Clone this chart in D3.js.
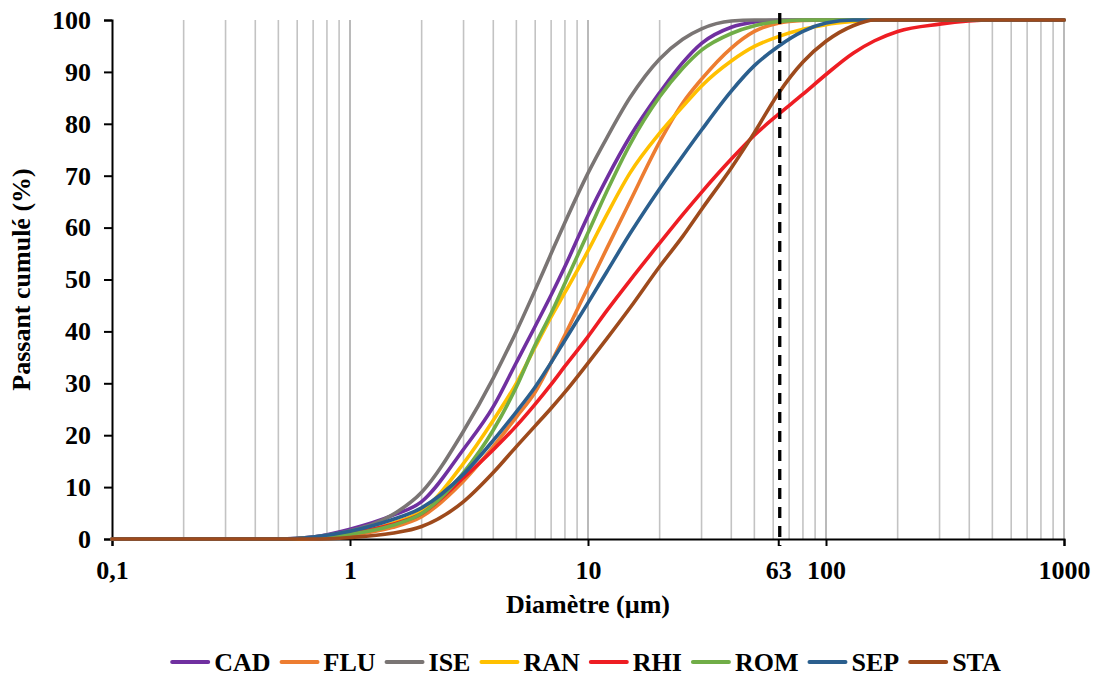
<!DOCTYPE html>
<html>
<head>
<meta charset="utf-8">
<script src="https://cdn.jsdelivr.net/npm/d3@7"></script>
<style>
  html, body { margin: 0; padding: 0; background: #fff; }
  svg { display: block; }
  text { font-family: "Liberation Serif", "Times New Roman", serif; font-weight: bold; fill: #000; }
</style>
</head>
<body>
<svg id="chart" width="1097" height="680"></svg>
<script>
// ---- data ----
const diameters = [0.1, 0.5, 0.7, 1, 1.5, 2, 3, 4, 5, 6, 7, 8, 10, 12, 15, 20, 25, 30, 40, 50, 63, 80, 100, 130, 160, 200, 300, 500, 1000];

const CAD = [0, 0, 0.4, 1.9, 4.5, 7.2, 17.3, 25.5, 34, 41, 47, 52.5, 62.3, 69.5, 77.5, 86, 91.8, 95.5, 98.6, 99.6, 99.95, 100, 100, 100, 100, 100, 100, 100, 100];
const FLU = [0, 0, 0.1, 0.7, 2.2, 4.3, 11.2, 17.8, 23.5, 28.3, 34, 39.3, 48.5, 56, 65, 76.5, 84, 88.6, 94.6, 97.8, 99.4, 99.9, 100, 100, 100, 100, 100, 100, 100];
const ISE = [0, 0, 0.4, 1.6, 4.6, 9, 20.8, 31, 40, 48, 55, 61, 70.5, 77.3, 85, 92.5, 96.3, 98.3, 99.8, 100, 100, 100, 100, 100, 100, 100, 100, 100, 100];
const RAN = [0, 0, 0.2, 1.0, 3, 5.4, 14.6, 22.9, 30, 37, 42.8, 47.5, 55.5, 62.5, 70.5, 78.2, 83.3, 87.3, 92.1, 94.9, 96.8, 98.2, 99.1, 99.7, 100, 100, 100, 100, 100];
const RHI = [0, 0, 0.2, 1.1, 2.8, 4.9, 11.8, 17.2, 21.8, 26, 29.8, 33.3, 39, 44, 49.8, 57, 62.5, 66.8, 73.2, 77.8, 81.8, 85.7, 89.5, 93.6, 96, 97.8, 99.2, 100, 100];
const ROM = [0, 0, 0.2, 0.9, 2.6, 4.9, 12.8, 21, 29.3, 37.4, 43.5, 49.3, 59, 67, 76, 85.2, 90.7, 94.2, 97.4, 98.9, 99.7, 100, 100, 100, 100, 100, 100, 100, 100];
const SEP = [0, 0, 0.4, 1.5, 3.7, 6, 12.5, 19, 24.5, 29.3, 34, 38.3, 45.5, 51.5, 58.8, 67.5, 73.8, 78.8, 86.3, 91.2, 94.9, 97.8, 99.4, 100, 100, 100, 100, 100, 100];
const STA = [0, 0, 0, 0.3, 1.1, 2.4, 7.2, 12.8, 17.8, 21.8, 25.2, 28.3, 33.9, 38.6, 44.5, 52.5, 58.3, 63.5, 71.5, 78.3, 85.8, 91.9, 95.9, 98.9, 100, 100, 100, 100, 100];

const seriesNames = ["CAD", "FLU", "ISE", "RAN", "RHI", "ROM", "SEP", "STA"];
const seriesValues = [CAD, FLU, ISE, RAN, RHI, ROM, SEP, STA];
const seriesColors = ["#7030A0", "#ED7D31", "#7A7574", "#FFC000", "#EE1D23", "#70AD47", "#2B5F8E", "#9E4A1C"];

const xTickValues = [0.1, 1, 10, 63, 100, 1000];
const xTickLabels = ["0,1", "1", "10", "63", "100", "1000"];
const yTickValues = [0, 10, 20, 30, 40, 50, 60, 70, 80, 90, 100];
const referenceDiameter = 63;

const xTitle = "Diamètre (µm)";
const yTitle = "Passant cumulé (%)";

// ---- layout ----
const W = 1097, H = 680;
const FS = 26;
const margin = { left: 112, right: 33, top: 20, bottom: 141 };
const svg = d3.select("#chart");

const x = d3.scaleLog().domain([0.1, 1000]).range([margin.left, W - margin.right]);
const y = d3.scaleLinear().domain([0, 100]).range([H - margin.bottom, margin.top]);

// vertical gridlines at every 1..9 x 10^k
const gridVals = [];
for (let k = -1; k < 3; k++) {
  for (let m = 1; m <= 9; m++) {
    const v = m * Math.pow(10, k);
    if (v > 0.1) gridVals.push(v);
  }
}
gridVals.push(1000);

svg.append("g").selectAll("line").data(gridVals).join("line")
  .attr("x1", d => x(d)).attr("x2", d => x(d))
  .attr("y1", y(100)).attr("y2", y(0))
  .attr("stroke", d => (Math.abs(Math.log10(d) - Math.round(Math.log10(d))) < 1e-9) ? "#a9a9a9" : "#c3c3c3")
  .attr("stroke-width", 1.6);

// x axis
const xAxis = svg.append("g").attr("transform", `translate(0,${y(0)})`)
  .call(d3.axisBottom(x).tickValues(xTickValues)
    .tickFormat((d, i) => xTickLabels[i]).tickSize(7).tickPadding(15));
xAxis.select(".domain").attr("stroke", "#000").attr("stroke-width", 2);
xAxis.selectAll(".tick line").attr("stroke", "#000").attr("stroke-width", 2);
xAxis.selectAll(".tick text").attr("font-size", FS).attr("font-family", "Liberation Serif").attr("font-weight", "bold").attr("fill", "#000");

// y axis
const yAxis = svg.append("g").attr("transform", `translate(${x(0.1)},0)`)
  .call(d3.axisLeft(y).tickValues(yTickValues).tickSize(8).tickPadding(13));
yAxis.select(".domain").attr("stroke", "#000").attr("stroke-width", 2);
yAxis.selectAll(".tick line").attr("stroke", "#000").attr("stroke-width", 2);
yAxis.selectAll(".tick text").attr("font-size", FS).attr("font-family", "Liberation Serif").attr("font-weight", "bold").attr("fill", "#000");

// curves
const line = d3.line()
  .x(d => x(d[0]))
  .y(d => y(d[1]))
  .curve(d3.curveMonotoneX);

const plotG = svg.append("g");
seriesValues.forEach((vals, i) => {
  const pts = diameters.map((d, j) => [d, vals[j]]);
  plotG.append("path")
    .datum(pts)
    .attr("d", line)
    .attr("fill", "none")
    .attr("stroke", seriesColors[i])
    .attr("stroke-width", 3.6)
    .attr("stroke-linejoin", "round")
    .attr("stroke-linecap", "round");
});

// reference dashed line
svg.append("line")
  .attr("x1", x(referenceDiameter) + 1.5).attr("x2", x(referenceDiameter) + 1.5)
  .attr("y1", y(100) - 7).attr("y2", y(0) + 7)
  .attr("stroke", "#000").attr("stroke-width", 3.3)
  .attr("stroke-dasharray", "11,8");

// axis titles
svg.append("text")
  .attr("x", (x(0.1) + x(1000)) / 2)
  .attr("y", 613)
  .attr("text-anchor", "middle")
  .attr("font-size", FS)
  .text(xTitle);

svg.append("text")
  .attr("transform", `translate(30,${(y(0) + y(100)) / 2}) rotate(-90)`)
  .attr("text-anchor", "middle")
  .attr("font-size", FS)
  .text(yTitle);

// legend
const legend = svg.append("g");
const lineLen = 36, gapAfterLine = 6, gapAfterText = 11, legendY = 662;
let lx = 0;
seriesNames.forEach((name, i) => {
  const g = legend.append("g");
  g.append("line")
    .attr("x1", lx).attr("x2", lx + lineLen)
    .attr("y1", legendY).attr("y2", legendY)
    .attr("stroke", seriesColors[i]).attr("stroke-width", 4).attr("stroke-linecap", "round");
  const t = g.append("text")
    .attr("x", lx + lineLen + gapAfterLine)
    .attr("y", legendY + 9)
    .attr("font-size", FS)
    .text(name);
  lx += lineLen + gapAfterLine + t.node().getComputedTextLength() + gapAfterText;
});
const totalW = lx - gapAfterText;
legend.attr("transform", `translate(${(W - totalW) / 2 + 38},0)`);
</script>
</body>
</html>
